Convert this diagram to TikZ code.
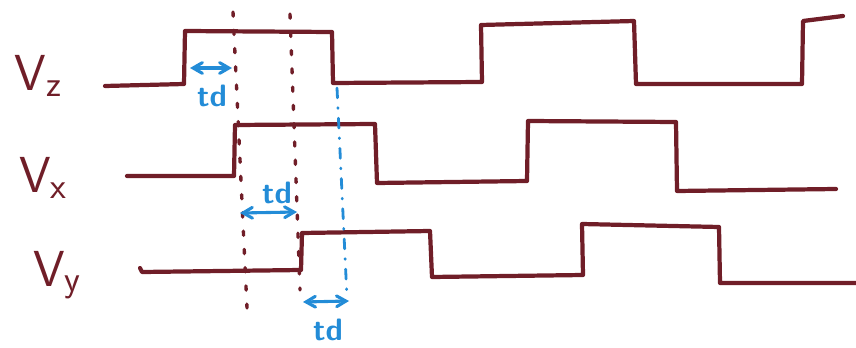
\documentclass[tikz,border=0pt]{standalone}
\usepackage{tikz}
\usetikzlibrary{arrows}
\definecolor{ink}{RGB}{112,30,40}
\definecolor{pen}{RGB}{35,140,215}

\begin{document}
\begin{tikzpicture}[x=0.025cm, y=-0.025cm,
		wave/.style={ink, line width=3pt, line join=round, line cap=round},
		guide/.style={ink, line width=2.4pt, line cap=round, dash pattern=on 3pt off 10pt},
		blueguide/.style={pen, line width=2pt, line cap=round, dash pattern=on 7pt off 7pt on 0.5pt off 7pt},
		delay/.style={pen, line width=2.2pt, angle 60-angle 60},
		sig/.style={ink, font=\fontsize{36}{40}\selectfont\sffamily},
		tdlabel/.style={pen, font=\fontsize{22}{26}\selectfont\sffamily\bfseries}]
				\useasboundingbox (0, 0) rectangle (856, 348);
				% Signal names:
				\node[sig] (Vz) at (38, 76){V{\fontsize{26}{28}\selectfont\raisebox{-0.35ex}{z}}};
				\node[sig] (Vx) at (43, 178){V{\fontsize{26}{28}\selectfont\raisebox{-0.35ex}{x}}};
				\node[sig] (Vy) at (57, 275){V{\fontsize{26}{28}\selectfont\raisebox{-0.35ex}{y}}};
				% Waveforms:
				\draw[wave] (105, 86) -- (184, 84) -- (185, 31) -- (332, 32) -- (333, 83) -- (482, 82) -- (481, 25) -- (634, 21) -- (636, 84) -- (802, 84) -- (803, 21) -- (843, 16);
				\draw[wave] (127, 176) -- (234, 176) -- (235, 125) -- (375, 124) -- (377, 183) -- (527, 181) -- (528, 121) -- (676, 122) -- (677, 191) -- (836, 189);
				\draw[wave] (140, 268) -- (142, 272) -- (301, 270) -- (302, 233) -- (430, 231) -- (432, 277) -- (583, 275) -- (582, 224) -- (719, 227) -- (720, 283) -- (856, 283);
				% Guide lines:
				\draw[guide] (233, 12) -- (247, 308);
				\draw[guide] (290, 14) -- (300, 290);
				\draw[blueguide] (337, 88) -- (347, 298);
				% Delays:
				\coordinate (A1) at (190, 68);
				\coordinate (A2) at (232, 68);
				\coordinate (B1) at (240, 213);
				\coordinate (B2) at (297, 212);
				\coordinate (C1) at (303, 302);
				\coordinate (C2) at (349, 301);
				\draw[delay] (A1) -- (A2);
				\draw[delay] (B1) -- (B2);
				\draw[delay] (C1) -- (C2);
				\node[tdlabel] (tdA) at (212, 96){td};
				\node[tdlabel] (tdB) at (277, 193){td};
				\node[tdlabel] (tdC) at (328, 330){td};
\end{tikzpicture}
\end{document}
